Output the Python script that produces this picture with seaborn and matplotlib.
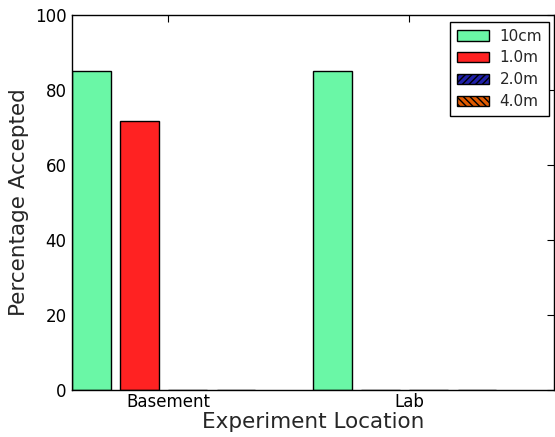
import matplotlib
matplotlib.use("Agg")
import matplotlib.pyplot as plt
import seaborn as sns
import pandas as pd

# values
locations = ["Basement", "Lab"]
spacings = ["10cm", "1.0m", "2.0m", "4.0m"]
basement_pct = [85.0, 71.7, 0.0, 0.0]
lab_pct = [85.0, 0.0, 0.0, 0.0]

colors = ["#6af7a6", "#ff2222", "#2020a8", "#e05a00"]
hatches = ["", "", "/////", "\\\\\\\\\\"]

df = pd.DataFrame({
    "Location": [locations[0]] * 4 + [locations[1]] * 4,
    "Spacing": spacings * 2,
    "Percent": basement_pct + lab_pct,
})

sns.set_style("white")
plt.rcParams.update({
    "font.family": ["DejaVu Sans"],
    "xtick.direction": "in",
    "ytick.direction": "in",
    "xtick.top": True,
    "ytick.right": True,
    "xtick.major.size": 5,
    "ytick.major.size": 5,
    "xtick.major.width": 0.8,
    "ytick.major.width": 0.8,
    "hatch.color": "#101010",
    "axes.edgecolor": "black",
})

fig = plt.figure(figsize=(5.55, 4.37), dpi=100)
ax = fig.add_axes([0.13, 0.1075, 0.868, 0.8585])

sns.barplot(data=df, x="Location", y="Percent", hue="Spacing",
            palette=colors, errorbar=None, gap=0.2, saturation=1,
            edgecolor="black", linewidth=1, ax=ax)

for cont, h in zip(ax.containers, hatches):
    for p in cont.patches:
        p.set_hatch(h)

# ticks sit at the left edge of the third bar in each group
ax.set_xlim(-0.38, 1.62)
ax.set_ylim(0, 100)
ax.set_xticks([0.02, 1.02])
ax.set_xticklabels(locations)
ax.set_yticks([0, 20, 40, 60, 80, 100])
ax.tick_params(labelsize=12, colors="black")
ax.tick_params(axis="x", pad=2)
ax.tick_params(axis="y", pad=4)
ax.set_xlabel("Experiment Location", fontsize=15.5, labelpad=1)
ax.set_ylabel("Percentage Accepted", fontsize=15.5, labelpad=4)
for s in ax.spines.values():
    s.set_visible(True)
    s.set_linewidth(1)

leg = ax.legend(handles=ax.containers, labels=spacings, loc="upper right",
                bbox_to_anchor=(1.004, 1.0),
                fontsize=11, fancybox=False, edgecolor="black", framealpha=1,
                handlelength=2.1, handletextpad=0.7, borderaxespad=0.45,
                labelspacing=0.45, borderpad=0.45)
leg.get_frame().set_linewidth(1)

fig.savefig("out.png", dpi=100)
